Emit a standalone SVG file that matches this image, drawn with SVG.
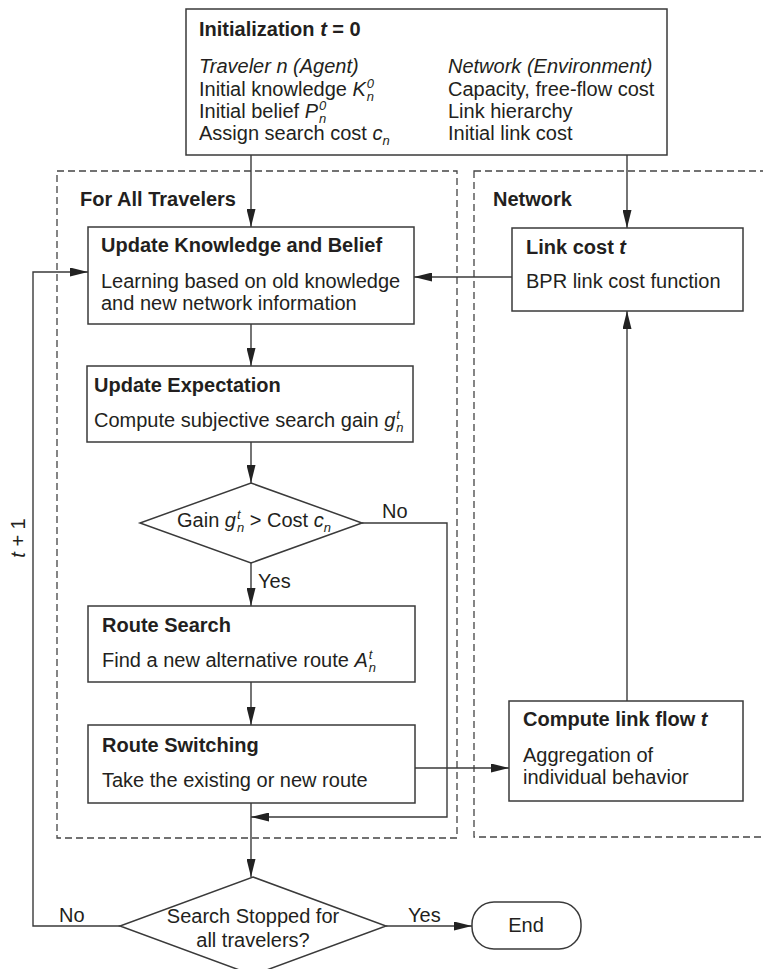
<svg xmlns="http://www.w3.org/2000/svg" width="763" height="969" viewBox="0 0 763 969">
  <defs>
    <marker id="arrow" markerUnits="userSpaceOnUse" markerWidth="18" markerHeight="9" refX="18" refY="4.5" orient="auto">
      <path d="M0,0 L18,4.5 L0,9 Z" fill="#222"/>
    </marker>
    <style>
      text { font-family: "Liberation Sans", Arial, Helvetica, sans-serif; font-size: 20px; fill: #231f20; }
      .b { font-weight: bold; }
      .i { font-style: italic; }
      .s { font-size: 13px; font-style: italic; }
      .box { fill: #fff; stroke: #3a3a3a; stroke-width: 1.5; }
      .group { fill: none; stroke: #444; stroke-width: 1.3; stroke-dasharray: 7 4; }
      .wire { fill: none; stroke: #3a3a3a; stroke-width: 1.4; }
      .arr { marker-end: url(#arrow); }
    </style>
  </defs>
  <rect width="763" height="969" fill="#fff"/>

  <!-- dashed group frames -->
  <g id="group-travelers">
    <rect class="group" x="57" y="171" width="400" height="667"/>
    <text class="b" x="80" y="206">For All Travelers</text>
  </g>
  <g id="group-network">
    <rect class="group" x="474" y="171" width="300" height="666"/>
    <text class="b" x="493" y="206">Network</text>
  </g>

  <!-- connectors -->
  <g id="connectors">
    <path class="wire arr" d="M251,155 V227"/>
    <path class="wire arr" d="M627,155 V228"/>
    <path class="wire arr" d="M512,277 H414"/>
    <path class="wire arr" d="M251,324 V366"/>
    <path class="wire arr" d="M251,442 V483"/>
    <path class="wire arr" d="M251,563 V606"/>
    <path class="wire arr" d="M251,682 V725"/>
    <path class="wire arr" d="M362,523 H447 V817 H251"/>
    <path class="wire arr" d="M251,803 V877"/>
    <path class="wire arr" d="M415,768 H509"/>
    <path class="wire arr" d="M627,701 V311"/>
    <path class="wire arr" d="M120,926 H33 V272 H88"/>
    <path class="wire arr" d="M386,926 H472"/>
    <text x="382" y="518">No</text>
    <text x="258" y="588">Yes</text>
    <text x="59" y="922">No</text>
    <text x="408" y="922">Yes</text>
    <text transform="translate(25,538) rotate(-90)" text-anchor="middle"><tspan class="i">t</tspan> + 1</text>
  </g>

  <!-- initialization -->
  <g id="init">
    <rect class="box" x="186" y="9" width="481" height="146"/>
    <text class="b" x="199" y="36">Initialization <tspan class="i">t</tspan> = 0</text>
    <text class="i" x="199" y="73">Traveler n (Agent)</text>
    <text x="199" y="96">Initial knowledge <tspan class="i">K</tspan><tspan class="s" dx="1" dy="-8">0</tspan><tspan class="s" dx="-7.2" dy="13">n</tspan></text>
    <text x="199" y="118">Initial belief <tspan class="i">P</tspan><tspan class="s" dx="1" dy="-8">0</tspan><tspan class="s" dx="-7.2" dy="13">n</tspan></text>
    <text x="199" y="140">Assign search cost <tspan class="i">c</tspan><tspan class="s" dy="5">n</tspan></text>
    <text class="i" x="448" y="73">Network (Environment)</text>
    <text x="448" y="96">Capacity, free-flow cost</text>
    <text x="448" y="118">Link hierarchy</text>
    <text x="448" y="140">Initial link cost</text>
  </g>

  <g id="update-knowledge">
    <rect class="box" x="88" y="227" width="326" height="97"/>
    <text class="b" x="101" y="252">Update Knowledge and Belief</text>
    <text x="101" y="288">Learning based on old knowledge</text>
    <text x="101" y="310">and new network information</text>
  </g>

  <g id="link-cost">
    <rect class="box" x="512" y="228" width="231" height="83"/>
    <text class="b" x="526" y="254">Link cost <tspan class="i">t</tspan></text>
    <text x="526" y="288">BPR link cost function</text>
  </g>

  <g id="update-expectation">
    <rect class="box" x="87" y="366" width="326" height="76"/>
    <text class="b" x="94" y="392">Update Expectation</text>
    <text x="94" y="427">Compute subjective search gain <tspan class="i">g</tspan><tspan class="s" dx="1" dy="-8">t</tspan><tspan class="s" dx="-3.6" dy="13">n</tspan></text>
  </g>

  <g id="gain-check">
    <path class="box" d="M251,483 L362,523 L251,563 L140,523 Z"/>
    <text x="254" y="527" text-anchor="middle">Gain <tspan class="i">g</tspan><tspan class="s" dx="1" dy="-8">t</tspan><tspan class="s" dx="-3.6" dy="13">n</tspan><tspan dy="-5"> &gt; Cost </tspan><tspan class="i">c</tspan><tspan class="s" dy="5">n</tspan></text>
  </g>

  <g id="route-search">
    <rect class="box" x="88" y="606" width="327" height="76"/>
    <text class="b" x="102" y="632">Route Search</text>
    <text x="102" y="667">Find a new alternative route <tspan class="i">A</tspan><tspan class="s" dx="1" dy="-8">t</tspan><tspan class="s" dx="-3.6" dy="13">n</tspan></text>
  </g>

  <g id="route-switching">
    <rect class="box" x="88" y="725" width="327" height="78"/>
    <text class="b" x="102" y="752">Route Switching</text>
    <text x="102" y="787">Take the existing or new route</text>
  </g>

  <g id="link-flow">
    <rect class="box" x="509" y="701" width="234" height="100"/>
    <text class="b" x="523" y="726">Compute link flow <tspan class="i">t</tspan></text>
    <text x="523" y="762">Aggregation of</text>
    <text x="523" y="784">individual behavior</text>
  </g>

  <g id="stop-check">
    <path class="box" d="M253,877 L386,926 L253,975 L120,926 Z"/>
    <text x="253" y="923" text-anchor="middle">Search Stopped for</text>
    <text x="253" y="947" text-anchor="middle">all travelers?</text>
  </g>

  <g id="end">
    <rect class="box" x="472" y="902" width="109" height="47" rx="22" ry="22"/>
    <text x="526" y="932" text-anchor="middle">End</text>
  </g>
</svg>
